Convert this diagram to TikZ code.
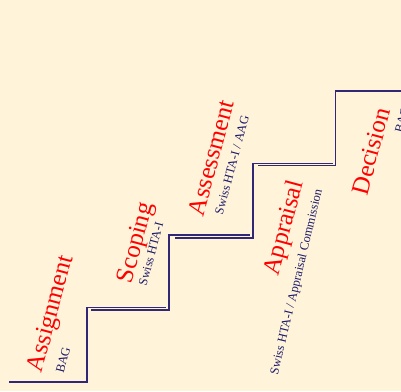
\documentclass[tikz,border=0pt]{standalone}
\usepackage{fontspec}
\setmainfont{Liberation Serif}
\definecolor{bgcream}{RGB}{255,244,218}
\definecolor{stairline}{RGB}{48,40,118}
\definecolor{subtext}{RGB}{28,26,105}
\definecolor{phasered}{RGB}{255,0,0}
\begin{document}
\begin{tikzpicture}[x=1pt,y=-1pt,
  stair/.style={draw=stairline,line width=1.3pt},
  phase/.style={text=phasered,font=\fontsize{25}{30}\selectfont,rotate=75,inner sep=0pt},
  actor/.style={text=subtext,font=\fontsize{12.5}{15}\selectfont,rotate=75,inner sep=0pt}]
\fill[bgcream] (0,0) rectangle (401,391);
\useasboundingbox (0,0) rectangle (401,391);
\clip (0,0) rectangle (401,391);
% staircase pieces
\coordinate (a0) at (9,382);
\coordinate (a1) at (87,382);
\coordinate (a2) at (87,307.5);
\coordinate (a3) at (166,307.5);
\draw[stair] (a0) -- (a1) -- (a2) -- (a3);
\coordinate (b0) at (91,310);
\coordinate (b1) at (169,310);
\coordinate (b2) at (169,235);
\coordinate (b3) at (250,235);
\draw[stair] (b0) -- (b1) -- (b2) -- (b3);
\coordinate (c0) at (175,238);
\coordinate (c1) at (253,238);
\coordinate (c2) at (253,163.3);
\coordinate (c3) at (333,163.3);
\draw[stair] (c0) -- (c1) -- (c2) -- (c3);
\coordinate (d0) at (258,165.5);
\coordinate (d1) at (335.7,165.5);
\coordinate (d2) at (335.7,91);
\coordinate (d3) at (402,91);
\draw[stair] (d0) -- (d1) -- (d2) -- (d3);
% labels
\node[phase] (assign) at (52,314) {Assignment};
\node[actor] (assignby) at (63,360) {BAG};
\node[phase] (scope) at (137,243) {Scoping};
\node[actor] (scopeby) at (151,254) {Swiss HTA-I};
\node[phase] (assess) at (211,158) {Assessment};
\node[actor] (assessby) at (232,165) {Swiss HTA-I / AAG};
\node[phase] (apprais) at (285,228) {Appraisal};
\node[actor,rotate=1.5] (appraisby) at (297,282) {Swiss HTA-I / Appraisal Commission};
\node[phase] (decide) at (371,151) {Decision};
\node[actor] (decideby) at (402,120) {BAG};
\end{tikzpicture}
\end{document}
